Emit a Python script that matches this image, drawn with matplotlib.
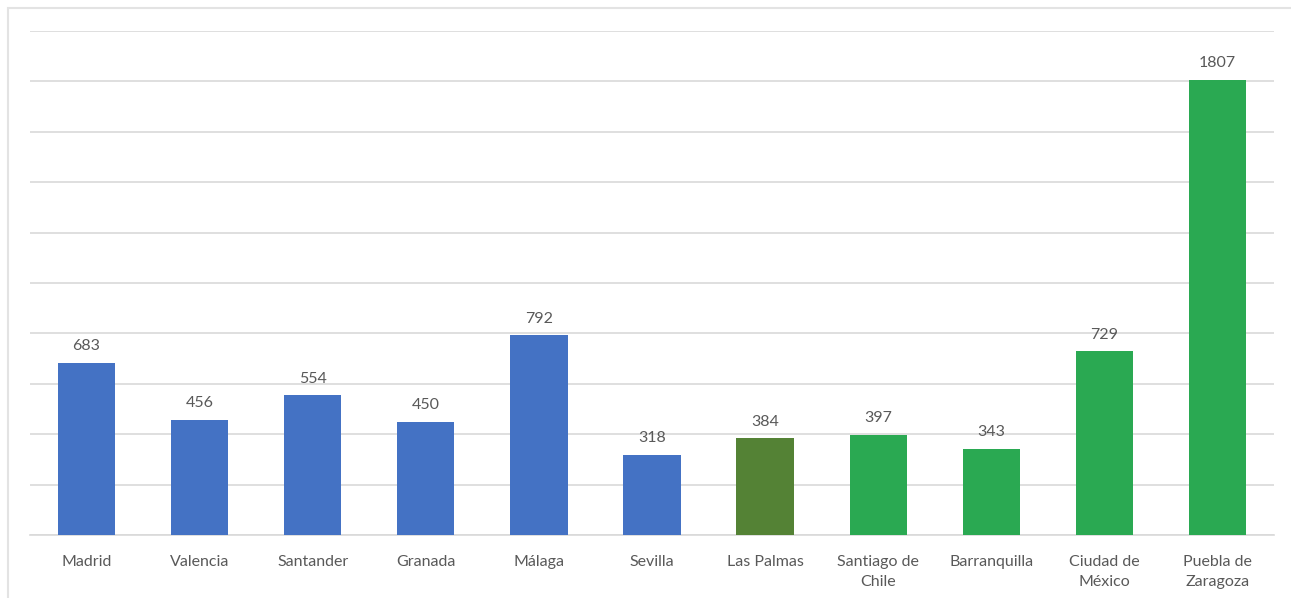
import matplotlib.pyplot as plt
import matplotlib.patches as mpatches

# Data
cities = ["Madrid", "Valencia", "Santander", "Granada", "Málaga", "Sevilla",
          "Las Palmas", "Santiago de\nChile", "Barranquilla", "Ciudad de\nMéxico",
          "Puebla de\nZaragoza"]
values = [683, 456, 554, 450, 792, 318, 384, 397, 343, 729, 1807]
groups = ["es", "es", "es", "es", "es", "es", "canarias", "am", "am", "am", "am"]

COLORS = {"es": "#4472C4", "canarias": "#548235", "am": "#2AA952"}
TEXT_COLOR = "#595959"
GRID_COLOR = "#D9D9D9"

plt.rcParams["font.family"] = ["Lato", "DejaVu Sans"]

fig = plt.figure(figsize=(12.91, 5.98), dpi=100)
ax = fig.add_axes([30 / 1291, 1 - 535 / 598, 1244 / 1291, (535 - 31) / 598])

x = list(range(len(cities)))
bars = ax.bar(x, values, width=0.507, color=[COLORS[g] for g in groups], zorder=3)

for rect, v in zip(bars, values):
    ax.annotate(str(v), xy=(rect.get_x() + rect.get_width() / 2, v),
                xytext=(0, 7), textcoords="offset points",
                ha="center", va="bottom", fontsize=11.5, color=TEXT_COLOR)

ax.set_xlim(-0.5, len(cities) - 0.5)
ax.set_ylim(0, 2000)
ax.set_yticks(range(0, 2001, 200))
ax.yaxis.grid(True, color=GRID_COLOR, linewidth=1.2, zorder=0)
ax.tick_params(axis="y", left=False, labelleft=False)
ax.tick_params(axis="x", bottom=False, pad=11)
ax.set_xticks(x)
ax.set_xticklabels(cities, fontsize=11.5, color=TEXT_COLOR, linespacing=1.5)

for side in ["top", "right", "left"]:
    ax.spines[side].set_visible(False)
ax.spines["bottom"].set_color(GRID_COLOR)
ax.spines["bottom"].set_linewidth(1.2)

# light outer frame, cut off at right and bottom
frame = mpatches.Rectangle((8 / 1291, -0.05), 1.1, 1 - 8 / 598 + 0.05,
                           transform=fig.transFigure, fill=False,
                           edgecolor="#E3E3E3", linewidth=1.5, clip_on=False)
fig.patches.append(frame)

plt.savefig("out.png", dpi=100)
plt.close()
